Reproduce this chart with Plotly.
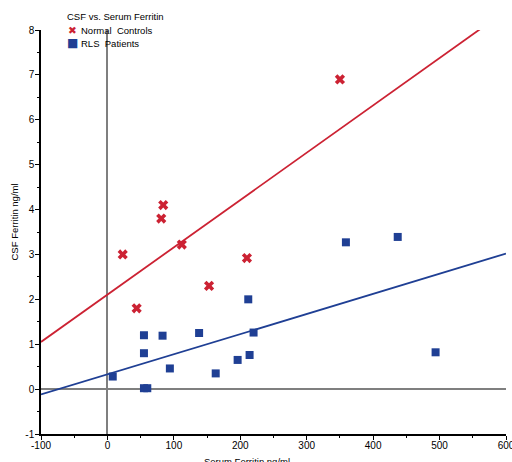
import plotly.graph_objects as go

# Normal controls (red X)
ctrl_x = [23, 44, 84, 81, 112, 153, 210, 350]
ctrl_y = [3.0, 1.8, 4.1, 3.8, 3.22, 2.3, 2.92, 6.9]

# RLS patients (blue squares)
rls_x = [8, 55, 55, 55, 60, 83, 94, 138, 163, 196, 212, 214, 220, 359, 437, 494]
rls_y = [0.28, 1.2, 0.8, 0.02, 0.02, 1.19, 0.46, 1.25, 0.35, 0.65, 2.0, 0.76, 1.26, 3.27, 3.39, 0.82]

# Fit lines (endpoints)
fit_x = [-100, 600]
ctrl_fit_y = [1.05, 8.43]
rls_fit_y = [-0.12, 3.02]

x_ticks = [-100, 0, 100, 200, 300, 400, 500, 600]
y_ticks = [-1, 0, 1, 2, 3, 4, 5, 6, 7, 8]

legend_title = "CSF vs. Serum Ferritin"
series_names = ["Normal\u00a0\u00a0Controls", "RLS\u00a0\u00a0Patients"]
x_title = "Serum Ferritin ng/ml"
y_title = "CSF Ferritin ng/ml"

RED = "#cc2233"
BLUE = "#1f3f94"
FONT = "Liberation Sans, Arial, sans-serif"

fig = go.Figure()
fig.add_trace(go.Scatter(x=fit_x, y=ctrl_fit_y, mode="lines",
                         line=dict(color=RED, width=1.8), showlegend=False, hoverinfo="skip"))
fig.add_trace(go.Scatter(x=fit_x, y=rls_fit_y, mode="lines",
                         line=dict(color=BLUE, width=1.8), showlegend=False, hoverinfo="skip"))
fig.add_trace(go.Scatter(x=ctrl_x, y=ctrl_y, mode="markers", name=series_names[0],
                         marker=dict(symbol="x", size=9, color=RED, line=dict(width=0)),
                         showlegend=False))
fig.add_trace(go.Scatter(x=rls_x, y=rls_y, mode="markers", name=series_names[1],
                         marker=dict(symbol="square", size=8, color=BLUE, line=dict(width=0)),
                         showlegend=False))

# legend and axis titles drawn as text
L, T, W, H = 41, 30, 465, 404
def px(xp):
    return (xp - L) / W
def py(yp):
    return (T + H - yp) / H

ann = [
    dict(text=legend_title, x=px(65), y=py(17), xanchor="left", yanchor="middle",
         font=dict(size=9.5, color="black")),
    dict(text="\u2716", x=px(72.5), y=py(30), xanchor="center", yanchor="middle",
         font=dict(size=10.5, color=RED, family="DejaVu Sans")),
    dict(text=series_names[0], x=px(79), y=py(30), xanchor="left", yanchor="middle",
         font=dict(size=9.5, color="black")),
    dict(text="\u25a0", x=px(72.5), y=py(43), xanchor="center", yanchor="middle",
         font=dict(size=12, color=BLUE, family="DejaVu Sans")),
    dict(text=series_names[1], x=px(79), y=py(43), xanchor="left", yanchor="middle",
         font=dict(size=9.5, color="black")),
    dict(text=x_title, x=px(246.5), y=py(461), xanchor="center", yanchor="middle",
         font=dict(size=9.5, color="black")),
    dict(text=y_title, x=px(13.5), y=py(222), xanchor="center", yanchor="middle",
         textangle=-90, font=dict(size=9.5, color="black")),
]
for a in ann:
    a.update(xref="paper", yref="paper", showarrow=False)

fig.update_layout(
    width=512, height=462,
    margin=dict(l=41, r=6, t=30, b=28, autoexpand=False),
    paper_bgcolor="white", plot_bgcolor="white",
    font=dict(family=FONT, size=10, color="black"),
    showlegend=False,
    annotations=ann,
    xaxis=dict(
        range=[-100, 600], tickvals=x_ticks, ticktext=[str(v) for v in x_ticks],
        showline=True, linecolor="black", linewidth=1.5,
        ticks="outside", ticklen=4, tickcolor="black", ticklabelstandoff=-3,
        minor=dict(dtick=50, ticks="outside", ticklen=2, tickcolor="black"),
        showgrid=False, zeroline=True, zerolinecolor="#7f7f7f", zerolinewidth=1.5,
        automargin=False, ticklabeloverflow="allow",
    ),
    yaxis=dict(
        range=[-1, 8], tickvals=y_ticks, ticktext=[str(v) for v in y_ticks],
        showline=True, linecolor="black", linewidth=1.5,
        ticks="outside", ticklen=4, tickcolor="black", ticklabelstandoff=-1,
        minor=dict(dtick=0.5, ticks="outside", ticklen=2, tickcolor="black"),
        showgrid=False, zeroline=True, zerolinecolor="#7f7f7f", zerolinewidth=1.5,
        automargin=False, ticklabeloverflow="allow",
    ),
)

fig.write_html("out.html", config={"displayModeBar": False})

# remove the default page margin so the figure sits at the window's corner
with open("out.html", "r", encoding="utf-8") as f:
    html = f.read()
html = html.replace("<body>", '<body style="margin:0;overflow:hidden">', 1)
with open("out.html", "w", encoding="utf-8") as f:
    f.write(html)
